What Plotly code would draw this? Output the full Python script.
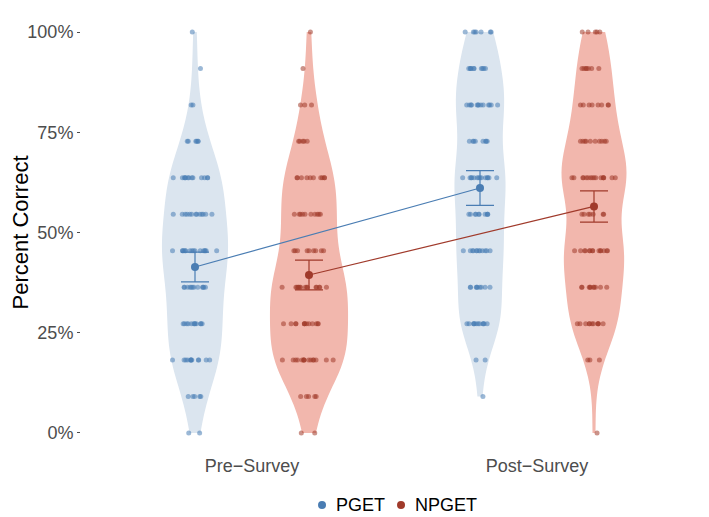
import numpy as np
import plotly.graph_objects as go

# ---- data ----
groups = ["Pre−Survey", "Post−Survey"]
series = ["PGET", "NPGET"]
# score levels: k correct out of 11 items, as percent
levels = [0, 9.09, 18.18, 27.27, 36.36, 45.45, 54.55, 63.64, 72.73, 81.82, 90.91, 100]

# counts of students at each level (low -> high)
pre_pget_counts = [2, 5, 12, 12, 12, 16, 13, 13, 6, 2, 1, 1]
pre_npget_counts = [2, 5, 15, 13, 15, 9, 10, 10, 5, 3, 1, 1]
post_pget_counts = [0, 1, 2, 12, 9, 12, 10, 14, 8, 13, 10, 7]
post_npget_counts = [1, 0, 3, 11, 10, 14, 7, 16, 10, 8, 7, 5]

# group means and error-bar half widths (percent)
pget_means = [41.4, 61.1]
pget_err = [3.7, 4.35]
npget_means = [39.4, 56.5]
npget_err = [3.7, 3.9]

tick_vals = [0, 25, 50, 75, 100]
tick_text = ["0%", "25%", "50%", "75%", "100%"]

# ---- styling ----
blue_fill = "rgb(219,229,239)"
red_fill = "rgb(242,183,173)"
blue_pt = "rgba(72,125,180,0.55)"
red_pt = "rgba(160,58,42,0.55)"
blue_line = "#4a7db3"
red_line = "#a03a2b"
series_colors = [blue_line, red_line]

xpos = {"PGET": [0.8, 1.8], "NPGET": [1.2, 2.2]}

fig = go.Figure()

# (series, group index, counts, fill, point colour, max violin width in x units)
violin_data = [
    ("PGET", 0, pre_pget_counts, blue_fill, blue_pt, 0.232),
    ("NPGET", 0, pre_npget_counts, red_fill, red_pt, 0.274),
    ("PGET", 1, post_pget_counts, blue_fill, blue_pt, 0.179),
    ("NPGET", 1, post_npget_counts, red_fill, red_pt, 0.228),
]

for name, gi, counts, fill, pt, w in violin_data:
    vals = np.repeat(levels, counts)
    fig.add_trace(go.Violin(
        x=[xpos[name][gi]] * len(vals),
        y=vals,
        fillcolor=fill,
        line=dict(width=0, color=fill),
        points="all",
        jitter=0.7,
        pointpos=0,
        marker=dict(color=pt, size=5, line=dict(width=0)),
        spanmode="hard",
        bandwidth=7,
        scalemode="width",
        width=w,
        showlegend=False,
        hoverinfo="skip",
        box=dict(visible=False),
        meanline=dict(visible=False),
    ))

for name, means, err, col in [("PGET", pget_means, pget_err, blue_line),
                              ("NPGET", npget_means, npget_err, red_line)]:
    fig.add_trace(go.Scatter(
        x=xpos[name], y=means,
        mode="lines+markers",
        line=dict(color=col, width=1.2),
        marker=dict(color=col, size=8),
        error_y=dict(type="data", array=err, visible=True, color=col,
                     thickness=1.2, width=14),
        showlegend=False,
    ))

# legend drawn as dots + text below the plot
legend_dot_x = [0.3844, 0.5104]
legend_text_x = [0.403, 0.530]
legend_y = -0.118
for name, col, dx, tx in zip(series, series_colors, legend_dot_x, legend_text_x):
    fig.add_shape(type="circle", xref="paper", yref="paper",
                  xsizemode="pixel", ysizemode="pixel",
                  xanchor=dx, yanchor=legend_y,
                  x0=-4, x1=4, y0=-4, y1=4,
                  fillcolor=col, line=dict(width=0))
    fig.add_annotation(x=tx, y=legend_y, xref="paper", yref="paper",
                       text=name, showarrow=False, xanchor="left", yanchor="middle",
                       font=dict(size=18, color="black"))

# page body adds an 8px margin, so the figure is 8px smaller than the window
fig.update_layout(
    width=701, height=509,
    paper_bgcolor="white", plot_bgcolor="white",
    margin=dict(l=73, r=1, t=4, b=64),
    font=dict(family="Liberation Sans, Arial, sans-serif", size=18, color="#4d4d4d"),
    showlegend=False,
    xaxis=dict(range=[0.4, 2.6], tickvals=[1, 2], ticktext=groups,
               showgrid=False, zeroline=False, showline=False, ticks="",
               tickfont=dict(size=18, color="#4d4d4d")),
    yaxis=dict(range=[-5, 105], tickvals=tick_vals, ticktext=tick_text,
               showgrid=False, zeroline=False, showline=False,
               ticks="outside", ticklen=3, tickcolor="#4d4d4d", tickwidth=1,
               tickfont=dict(size=18, color="#4d4d4d"),
               title=dict(text="Percent Correct", standoff=1,
                          font=dict(size=22, color="black"))),
)

fig.write_html("out.html")
